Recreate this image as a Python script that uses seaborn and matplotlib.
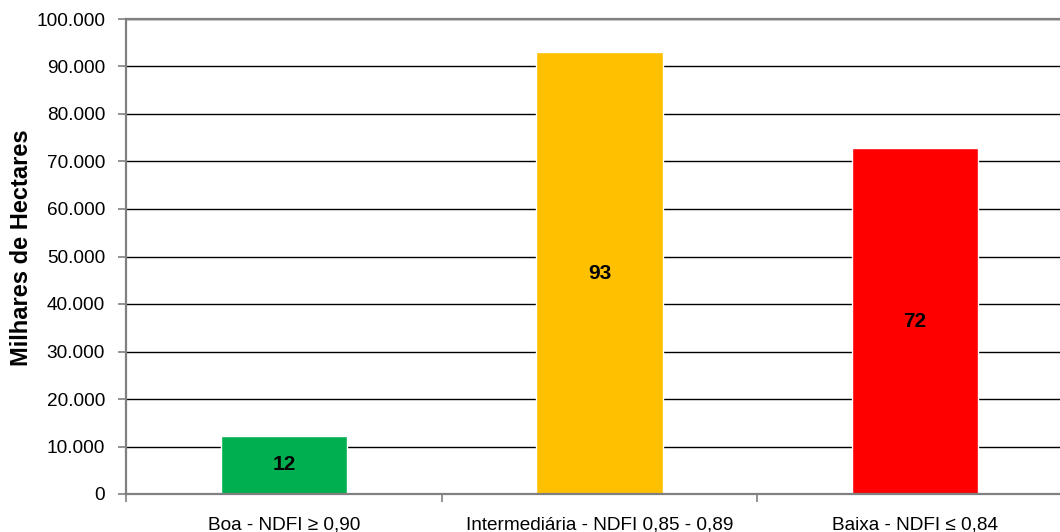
import matplotlib
matplotlib.use("Agg")
import matplotlib.pyplot as plt
from matplotlib.ticker import FuncFormatter, MultipleLocator, FixedLocator
import seaborn as sns
import pandas as pd

# Área por classe de qualidade (hectares)
categorias = ["Boa - NDFI ≥ 0,90", "Intermediária - NDFI 0,85 - 0,89", "Baixa - NDFI ≤ 0,84"]
area_ha = [12300, 93000, 72800]
cores = ["#00B050", "#FFC000", "#FF0000"]
y_ticks = list(range(0, 100001, 10000))

sns.set_theme(style="white")
plt.rcParams["font.family"] = ["Liberation Sans", "DejaVu Sans"]

df = pd.DataFrame({"classe": categorias, "area": area_ha})

fig = plt.figure(figsize=(10.6, 5.32), dpi=100)
W, H = 1060, 532
left, right, top, bottom = 126, 1073, 19, 494
ax = fig.add_axes([left / W, 1 - bottom / H, (right - left) / W, (bottom - top) / H])

sns.barplot(data=df, x="classe", y="area", hue="classe", palette=cores,
            width=0.4, saturation=1, legend=False, ax=ax, zorder=3)

ax.set_xlim(-0.5, len(categorias) - 0.5)
ax.set_ylim(0, 100000)
ax.yaxis.set_major_locator(FixedLocator(y_ticks))
ax.yaxis.set_major_formatter(FuncFormatter(lambda v, p: f"{int(v):,}".replace(",", ".")))
ax.grid(axis="y", color="black", linewidth=1.0, zorder=1)
ax.grid(axis="x", visible=False)
ax.set_axisbelow(True)

# category separators as minor ticks on the x axis
ax.xaxis.set_minor_locator(MultipleLocator(1, offset=0.5))
ax.tick_params(axis="x", which="major", length=0, pad=16, labelsize=13.7, colors="black")
ax.tick_params(axis="x", which="minor", bottom=True, length=6, width=1.2, color="#808080")
ax.tick_params(axis="y", which="major", left=True, length=6, width=1.2, color="#808080",
               labelsize=13.7, labelcolor="black", pad=9)

ax.spines["right"].set_visible(False)
for side in ["left", "bottom", "top"]:
    ax.spines[side].set_color("#808080")
    ax.spines[side].set_linewidth(1.6)
    ax.spines[side].set_zorder(4)

ax.set_xlabel("")
ax.set_ylabel("Milhares de Hectares", fontsize=17, fontweight="bold", color="black")
ax.yaxis.set_label_coords(-(126 - 22) / (right - left), (494 - 248) / (bottom - top))
ax.yaxis.label.set_verticalalignment("center")

for container in ax.containers:
    ax.bar_label(container, labels=[f"{int(b.get_height() // 1000)}" for b in container],
                 label_type="center", fontsize=15, fontweight="bold", color="black")

fig.savefig("out.png", dpi=100)
